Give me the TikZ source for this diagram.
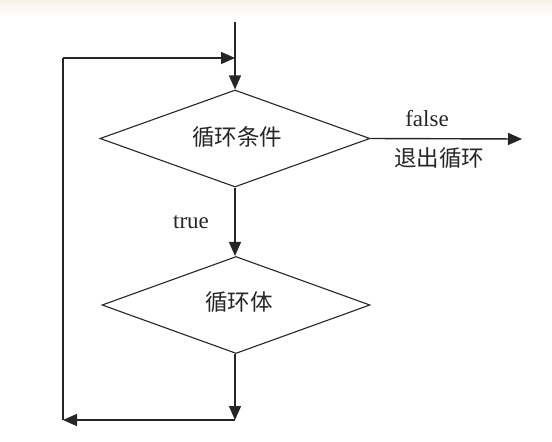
\documentclass[tikz,border=0pt]{standalone}
\usepackage{fontspec}
\setmainfont{Liberation Serif}
\newfontfamily\cjk{Noto Sans CJK SC}
\usetikzlibrary{shapes.geometric,arrows.meta}
\begin{document}
\begin{tikzpicture}[x=1pt,y=-1pt,
  line/.style={line width=1.4pt,black!85},
  arr/.style={line, -{Triangle[length=14pt,width=12pt]}},
  decision/.style={diamond,draw=black!85,line width=1.1pt,minimum width=270pt,minimum height=97pt,inner sep=0pt},
  cn/.style={font=\cjk\fontsize{22.5pt}{26pt}\selectfont,text=black!85},
  en/.style={font=\fontsize{23pt}{26pt}\selectfont,text=black!85}]
\useasboundingbox (0,0) rectangle (552,442);
\fill[white] (0,0) rectangle (552,442);
\shade[top color={rgb,255:red,247;green,242;blue,232},bottom color=white] (0,0) rectangle (552,16);
\node[decision] (d1) at (235,138.5) {};
\node[decision,minimum width=268pt] (d2) at (236,305) {};
\node[cn] (t1) at (237,137) {循环条件};
\node[cn] (t2) at (239,302) {循环体};
\node[en] (tf) at (427,119) {false};
\node[cn] (tx) at (439,158) {退出循环};
\node[en] (tt) at (191,222) {true};
\coordinate (start) at (235,22);
\coordinate (ltop) at (63,58);
\coordinate (join) at (235,58);
\coordinate (exit) at (522,139);
\coordinate (bot) at (235,420);
\coordinate (lbot) at (63,420);
\draw[arr] (start) -- (d1.north);
\draw[arr] (ltop) -- (join);
\draw[arr] (d1.east) -- (exit);
\draw[arr] (d1.south) -- (d2.north -| d1.south);
\draw[arr] (d2.south -| d1.south) -- (bot);
\draw[arr] (bot) -- (lbot);
\draw[line] (lbot) -- (ltop);
\end{tikzpicture}
\end{document}
